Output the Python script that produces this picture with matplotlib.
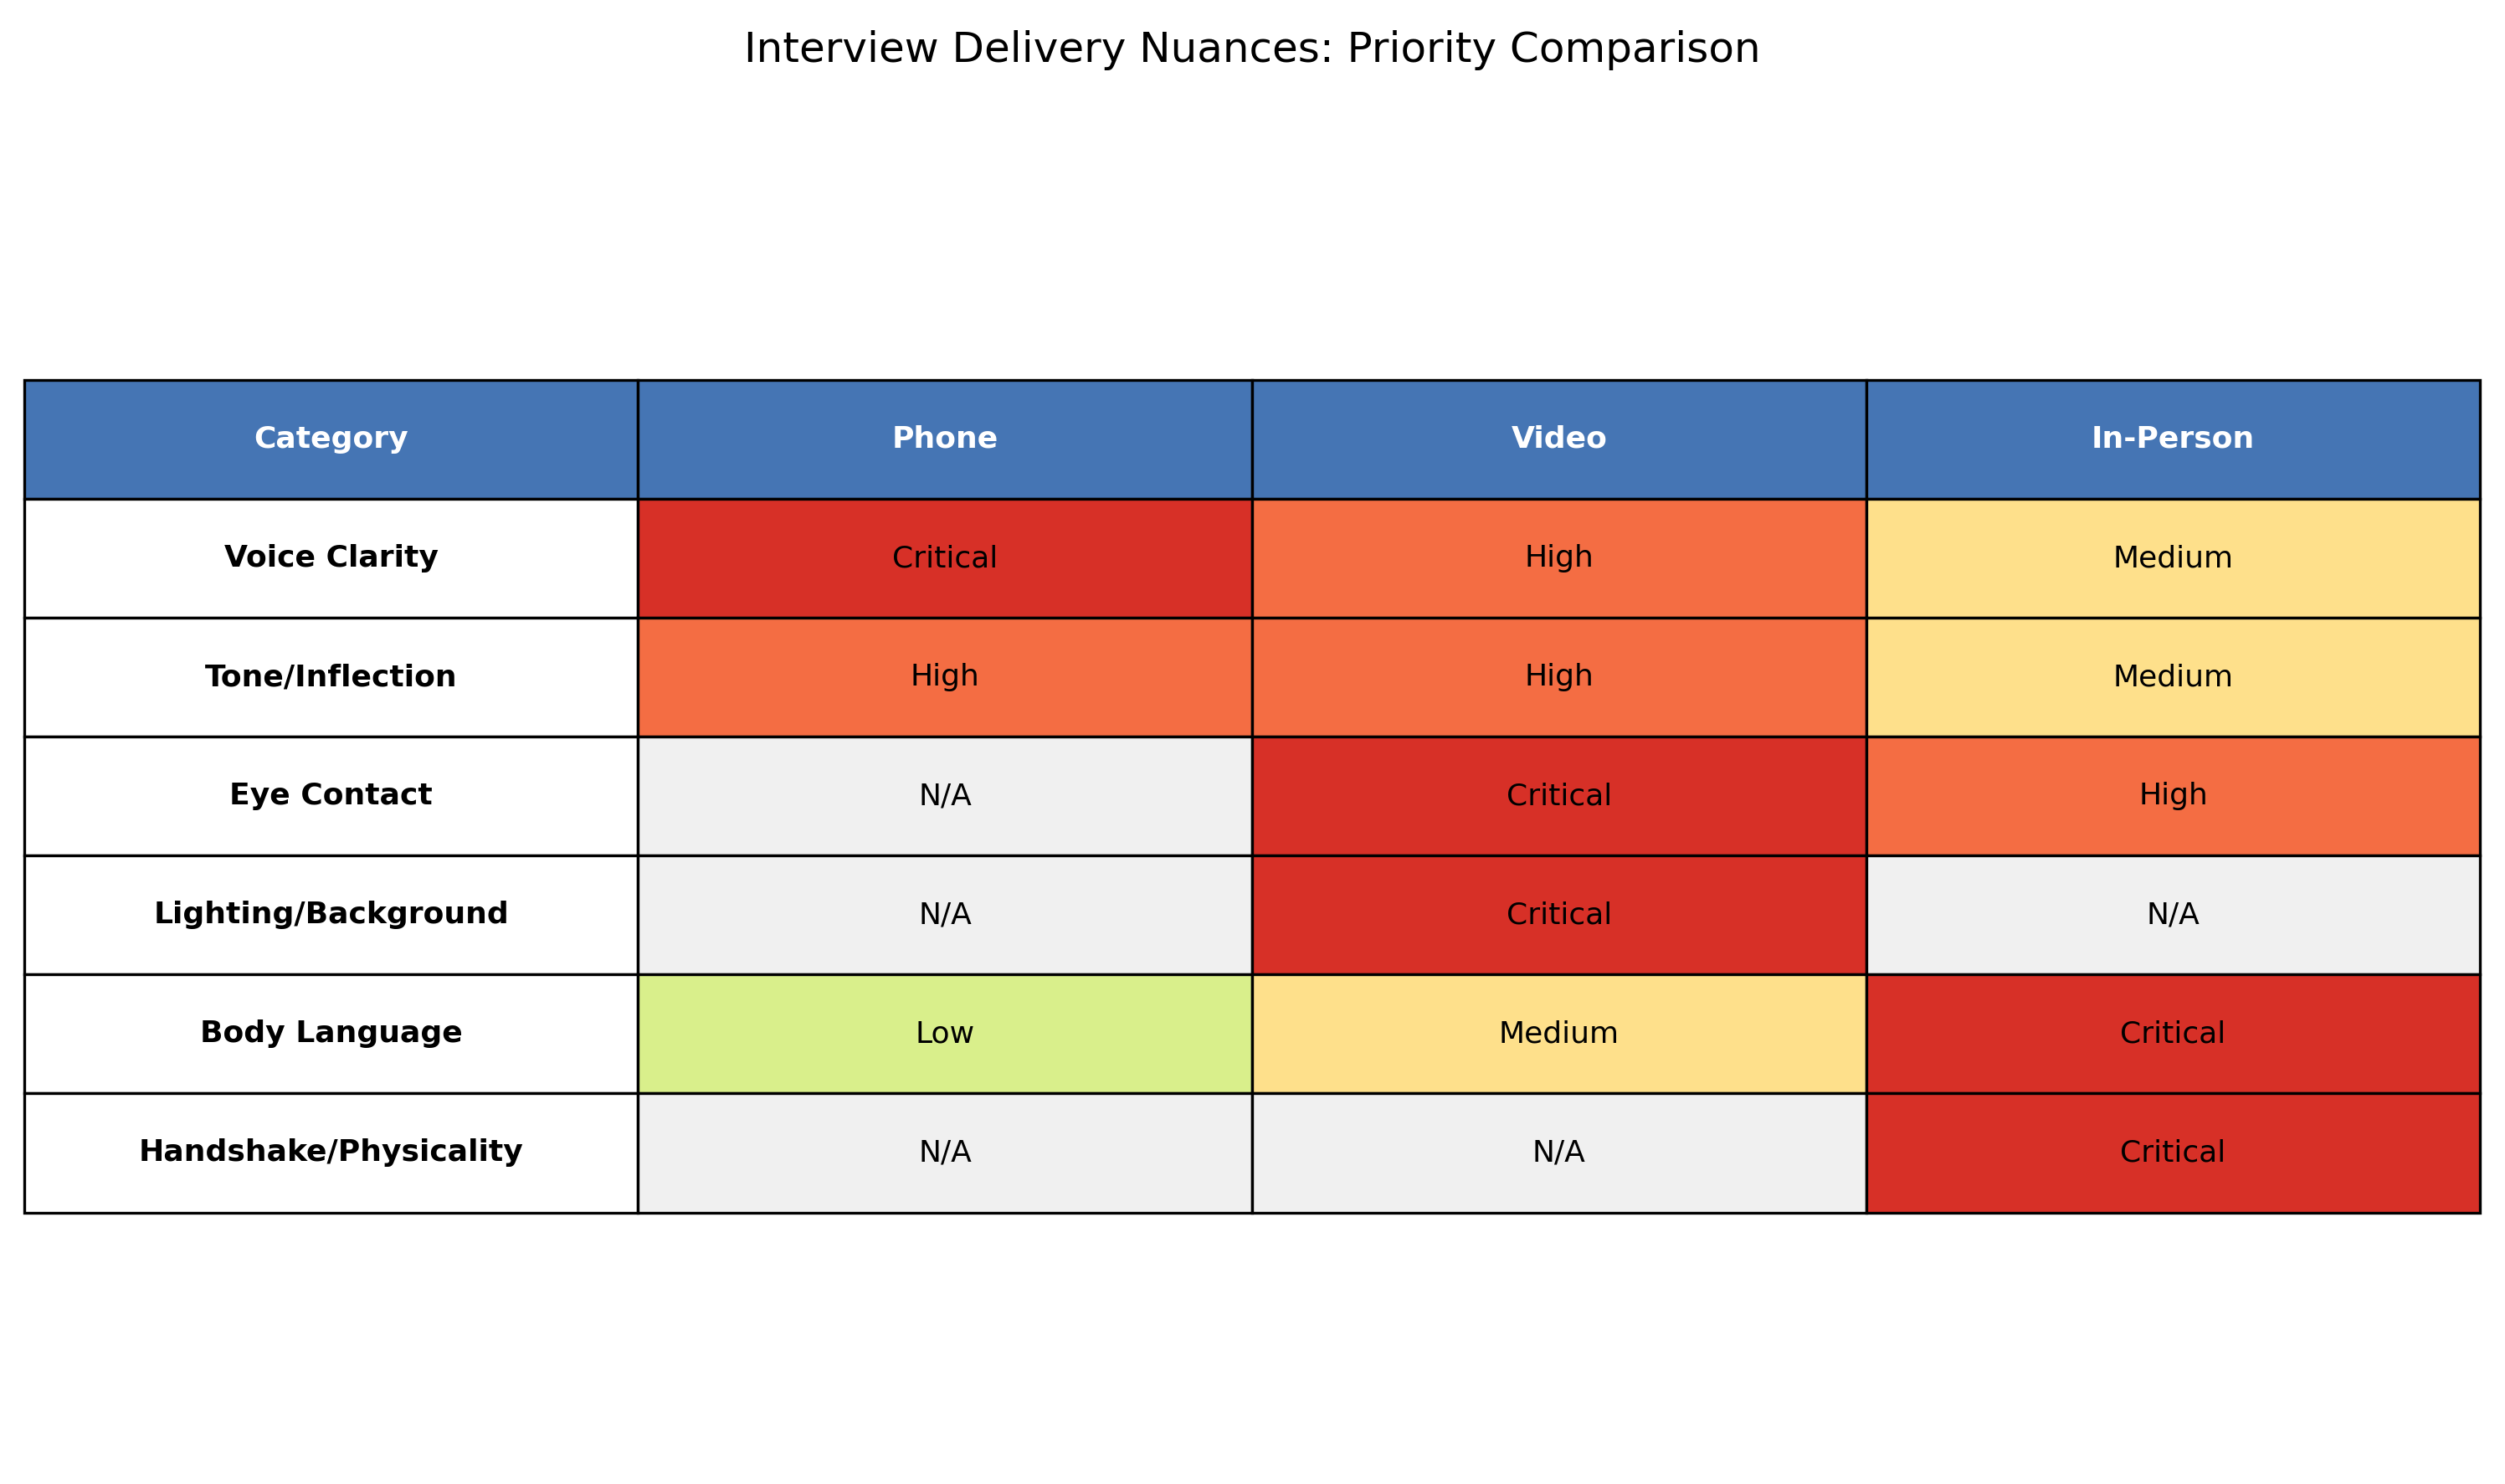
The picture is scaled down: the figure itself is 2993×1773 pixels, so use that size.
import matplotlib
matplotlib.use("Agg")
import matplotlib.pyplot as plt

columns = ["Category", "Phone", "Video", "In-Person"]
categories = ["Voice Clarity", "Tone/Inflection", "Eye Contact", "Lighting/Background", "Body Language", "Handshake/Physicality"]
phone = ["Critical", "High", "N/A", "N/A", "Low", "N/A"]
video = ["High", "High", "Critical", "Critical", "Medium", "N/A"]
in_person = ["Medium", "Medium", "High", "N/A", "Critical", "Critical"]

colors = {"Critical": "#d73027", "High": "#f46d43", "Medium": "#fee08b", "Low": "#d9ef8b", "N/A": "#f0f0f0"}

fig = plt.figure(figsize=(14.965, 8.865), dpi=200)
ax = fig.add_axes([0, 0, 1, 1])
ax.axis("off")
cell_text = [[c, p, v, i] for c, p, v, i in zip(categories, phone, video, in_person)]
tbl = ax.table(cellText=cell_text, colLabels=columns, cellLoc="center",
               bbox=[0.0096, 0.183, 0.9805, 0.561])
tbl.auto_set_font_size(False)
for (r, c), cell in tbl.get_celld().items():
    cell.set_linewidth(1.2)
    cell.set_edgecolor("black")
    cell.get_text().set_fontsize(13)
    if r == 0:
        cell.set_facecolor("#4575b4")
        cell.get_text().set_color("white")
        cell.get_text().set_fontweight("bold")
    elif c == 0:
        cell.set_facecolor("white")
        cell.get_text().set_fontweight("bold")
    else:
        cell.set_facecolor(colors[cell.get_text().get_text()])
fig.text(0.5, 0.966, "Interview Delivery Nuances: Priority Comparison", ha="center", va="center", fontsize=18)
fig.savefig("out.png", dpi=200)
